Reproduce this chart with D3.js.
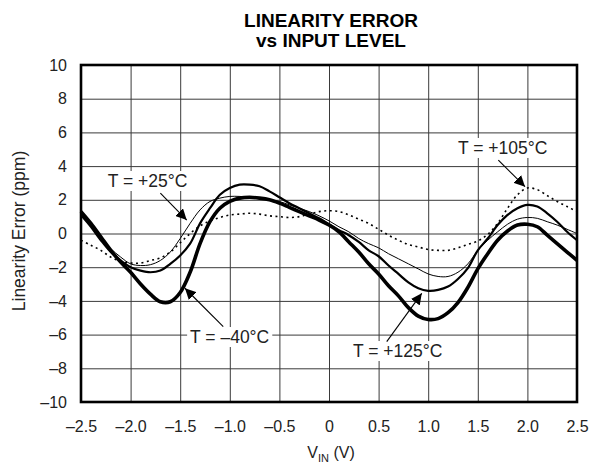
<!DOCTYPE html>
<html><head><meta charset="utf-8">
<script src="https://cdn.jsdelivr.net/npm/d3@7/dist/d3.min.js"></script>
<style>body{margin:0;background:#fff}text{font-family:"Liberation Sans",Arial,sans-serif}</style>
</head><body>
<svg id="c" width="590" height="466"></svg>
<script>
const vin = [-2.5,-2.4,-2.3,-2.2,-2.1,-2.0,-1.9,-1.8,-1.7,-1.6,-1.5,-1.4,-1.3,-1.2,-1.1,-1.0,-0.9,-0.8,-0.7,-0.6,-0.5,-0.4,-0.3,-0.2,-0.1,0.0,0.1,0.2,0.3,0.4,0.5,0.6,0.7,0.8,0.9,1.0,1.1,1.2,1.3,1.4,1.5,1.6,1.7,1.8,1.9,2.0,2.1,2.2,2.3,2.4,2.5];
const errM40 = [1.3,0.6,-0.2,-1.0,-1.7,-2.3,-3.0,-3.6,-4.05,-4.05,-3.5,-2.3,-0.6,0.7,1.5,1.9,2.1,2.15,2.1,2.0,1.8,1.55,1.3,1.05,0.8,0.5,0.1,-0.5,-1.1,-1.8,-2.4,-3.1,-3.7,-4.4,-4.9,-5.1,-5.05,-4.7,-4.1,-3.2,-2.1,-1.2,-0.4,0.15,0.5,0.55,0.4,-0.1,-0.6,-1.1,-1.6];
const err125 = [1.1,0.4,-0.4,-1.1,-1.6,-2.0,-2.2,-2.3,-2.2,-1.8,-1.3,-0.6,0.6,1.5,2.3,2.7,2.9,2.9,2.8,2.5,2.15,1.8,1.5,1.2,0.9,0.55,0.2,-0.1,-0.5,-1.0,-1.35,-1.9,-2.4,-2.9,-3.25,-3.4,-3.35,-3.15,-2.7,-2.05,-1.0,-0.3,0.5,1.1,1.5,1.7,1.6,1.2,0.7,0.1,-0.4];
const err25 = [1.2,0.5,-0.3,-0.9,-1.4,-1.8,-1.9,-1.85,-1.6,-1.1,-0.3,0.6,1.4,1.9,2.1,2.2,2.2,2.15,2.1,2.0,1.9,1.7,1.5,1.3,1.05,0.75,0.4,0.1,-0.3,-0.6,-0.85,-1.2,-1.5,-1.8,-2.1,-2.4,-2.55,-2.55,-2.3,-1.8,-1.0,-0.4,0.1,0.55,0.85,0.95,0.9,0.7,0.5,0.25,0.0];
const err105 = [-0.4,-0.7,-1.0,-1.4,-1.65,-1.75,-1.75,-1.6,-1.45,-1.1,-0.55,0.0,0.45,0.75,0.95,1.1,1.15,1.2,1.15,1.05,1.0,0.95,1.0,1.15,1.3,1.35,1.3,1.1,0.85,0.6,0.25,-0.1,-0.4,-0.65,-0.8,-0.95,-1.0,-1.0,-0.85,-0.65,-0.45,-0.05,0.6,1.5,2.3,2.7,2.6,2.25,1.9,1.6,1.3];
const xTicks = [-2.5,-2.0,-1.5,-1.0,-0.5,0,0.5,1.0,1.5,2.0,2.5];
const xTickLabels = ["\u20132.5","\u20132.0","\u20131.5","\u20131.0","\u20130.5","0","0.5","1.0","1.5","2.0","2.5"];
const yTicks = [10,8,6,4,2,0,-2,-4,-6,-8,-10];
const yTickLabels = ["10","8","6","4","2","0","\u20132","\u20134","\u20136","\u20138","\u201310"];
const titleLines = ["LINEARITY ERROR","vs INPUT LEVEL"];
const labels = [
  {text:"T = +25\u00B0C", tx:-2.23, ty:2.76, ax0:-1.70, ay0:2.40, ax1:-1.434, ay1:0.80},
  {text:"T = +105\u00B0C", tx:1.30, ty:4.72, ax0:1.707, ay0:4.36, ax1:1.976, ay1:2.78},
  {text:"T = \u201340\u00B0C", tx:-1.40, ty:-6.50, ax0:-1.066, ay0:-5.53, ax1:-1.452, ay1:-3.25},
  {text:"T = +125\u00B0C", tx:0.242, ty:-7.33, ax0:0.582, ay0:-6.42, ax1:0.935, ay1:-3.55}
];

const svg = d3.select("#c");
const L = 81, R = 577, T = 65, B = 402;
const x = d3.scaleLinear().domain([-2.5,2.5]).range([L,R]);
const y = d3.scaleLinear().domain([-10,10]).range([B,T]);
const FONT = "'Liberation Sans',Arial,sans-serif";

// title
svg.append("text").attr("x",331).attr("y",27).attr("text-anchor","middle")
  .attr("font-size",19).attr("font-weight","bold").text(titleLines[0]);
svg.append("text").attr("x",331).attr("y",46.5).attr("text-anchor","middle")
  .attr("font-size",19).attr("font-weight","bold").text(titleLines[1]);

// grid via axes
const gx = svg.append("g").attr("transform",`translate(0,${B})`)
  .call(d3.axisBottom(x).tickValues(xTicks).tickSize(-(B-T)).tickFormat((d,i)=>xTickLabels[i]));
gx.select(".domain").remove();
gx.selectAll("line").attr("stroke","#3a3a3a").attr("stroke-width",1);
gx.selectAll("text").attr("font-size",16).attr("fill","#222").attr("dy",0).attr("y",30)
  .attr("font-family",FONT);

const gy = svg.append("g").attr("transform",`translate(${L},0)`)
  .call(d3.axisLeft(y).tickValues(yTicks).tickSize(-(R-L)).tickFormat((d,i)=>yTickLabels[i]));
gy.select(".domain").remove();
gy.selectAll("line").attr("stroke","#3a3a3a").attr("stroke-width",1);
gy.selectAll("text").attr("font-size",16).attr("fill","#222").attr("x",-14)
  .attr("font-family",FONT);

// axis titles
const xt = svg.append("text").attr("x",331).attr("y",458).attr("text-anchor","middle")
  .attr("font-size",16).attr("fill","#222");
xt.append("tspan").text("V");
xt.append("tspan").attr("font-size",11).attr("dy",4).text("IN");
xt.append("tspan").attr("dy",-4).text(" (V)");
svg.append("text").attr("transform","translate(25,231) rotate(-90)").attr("text-anchor","middle")
  .attr("font-size",17.5).attr("fill","#222").text("Linearity Error (ppm)");

// curves
const line = d3.line().x((d,i)=>x(vin[i])).y(d=>y(d)).curve(d3.curveCatmullRom.alpha(0.5));
const plot = svg.append("g");
plot.append("path").attr("d",line(err105)).attr("fill","none").attr("stroke","#000")
  .attr("stroke-width",1.6).attr("stroke-dasharray","2,3.5");
plot.append("path").attr("d",line(err25)).attr("fill","none").attr("stroke","#000").attr("stroke-width",1);
plot.append("path").attr("d",line(err125)).attr("fill","none").attr("stroke","#000").attr("stroke-width",2.2);
plot.append("path").attr("d",line(errM40)).attr("fill","none").attr("stroke","#000").attr("stroke-width",3.6);

// annotations
svg.append("defs").append("marker").attr("id","ah").attr("viewBox","0 0 10 10")
  .attr("refX",10).attr("refY",5).attr("markerWidth",11).attr("markerHeight",11)
  .attr("markerUnits","userSpaceOnUse").attr("orient","auto")
  .append("path").attr("d","M0,0 L10,5 L0,10 Z").attr("fill","#000");
labels.forEach(l=>{
  const g = svg.append("g");
  const t = g.append("text").attr("x",x(l.tx)).attr("y",y(l.ty)).attr("font-size",17.5).attr("fill","#222").text(l.text);
  const bb = t.node().getBBox();
  g.insert("rect","text").attr("x",bb.x-3).attr("y",bb.y).attr("width",bb.width+6).attr("height",bb.height).attr("fill","#fff");
  svg.append("line").attr("x1",x(l.ax0)).attr("y1",y(l.ay0)).attr("x2",x(l.ax1)).attr("y2",y(l.ay1))
    .attr("stroke","#000").attr("stroke-width",1.1).attr("marker-end","url(#ah)");
});

// frame
svg.append("rect").attr("x",L).attr("y",T).attr("width",R-L).attr("height",B-T)
  .attr("fill","none").attr("stroke","#000").attr("stroke-width",2.6);
</script>
</body></html>
